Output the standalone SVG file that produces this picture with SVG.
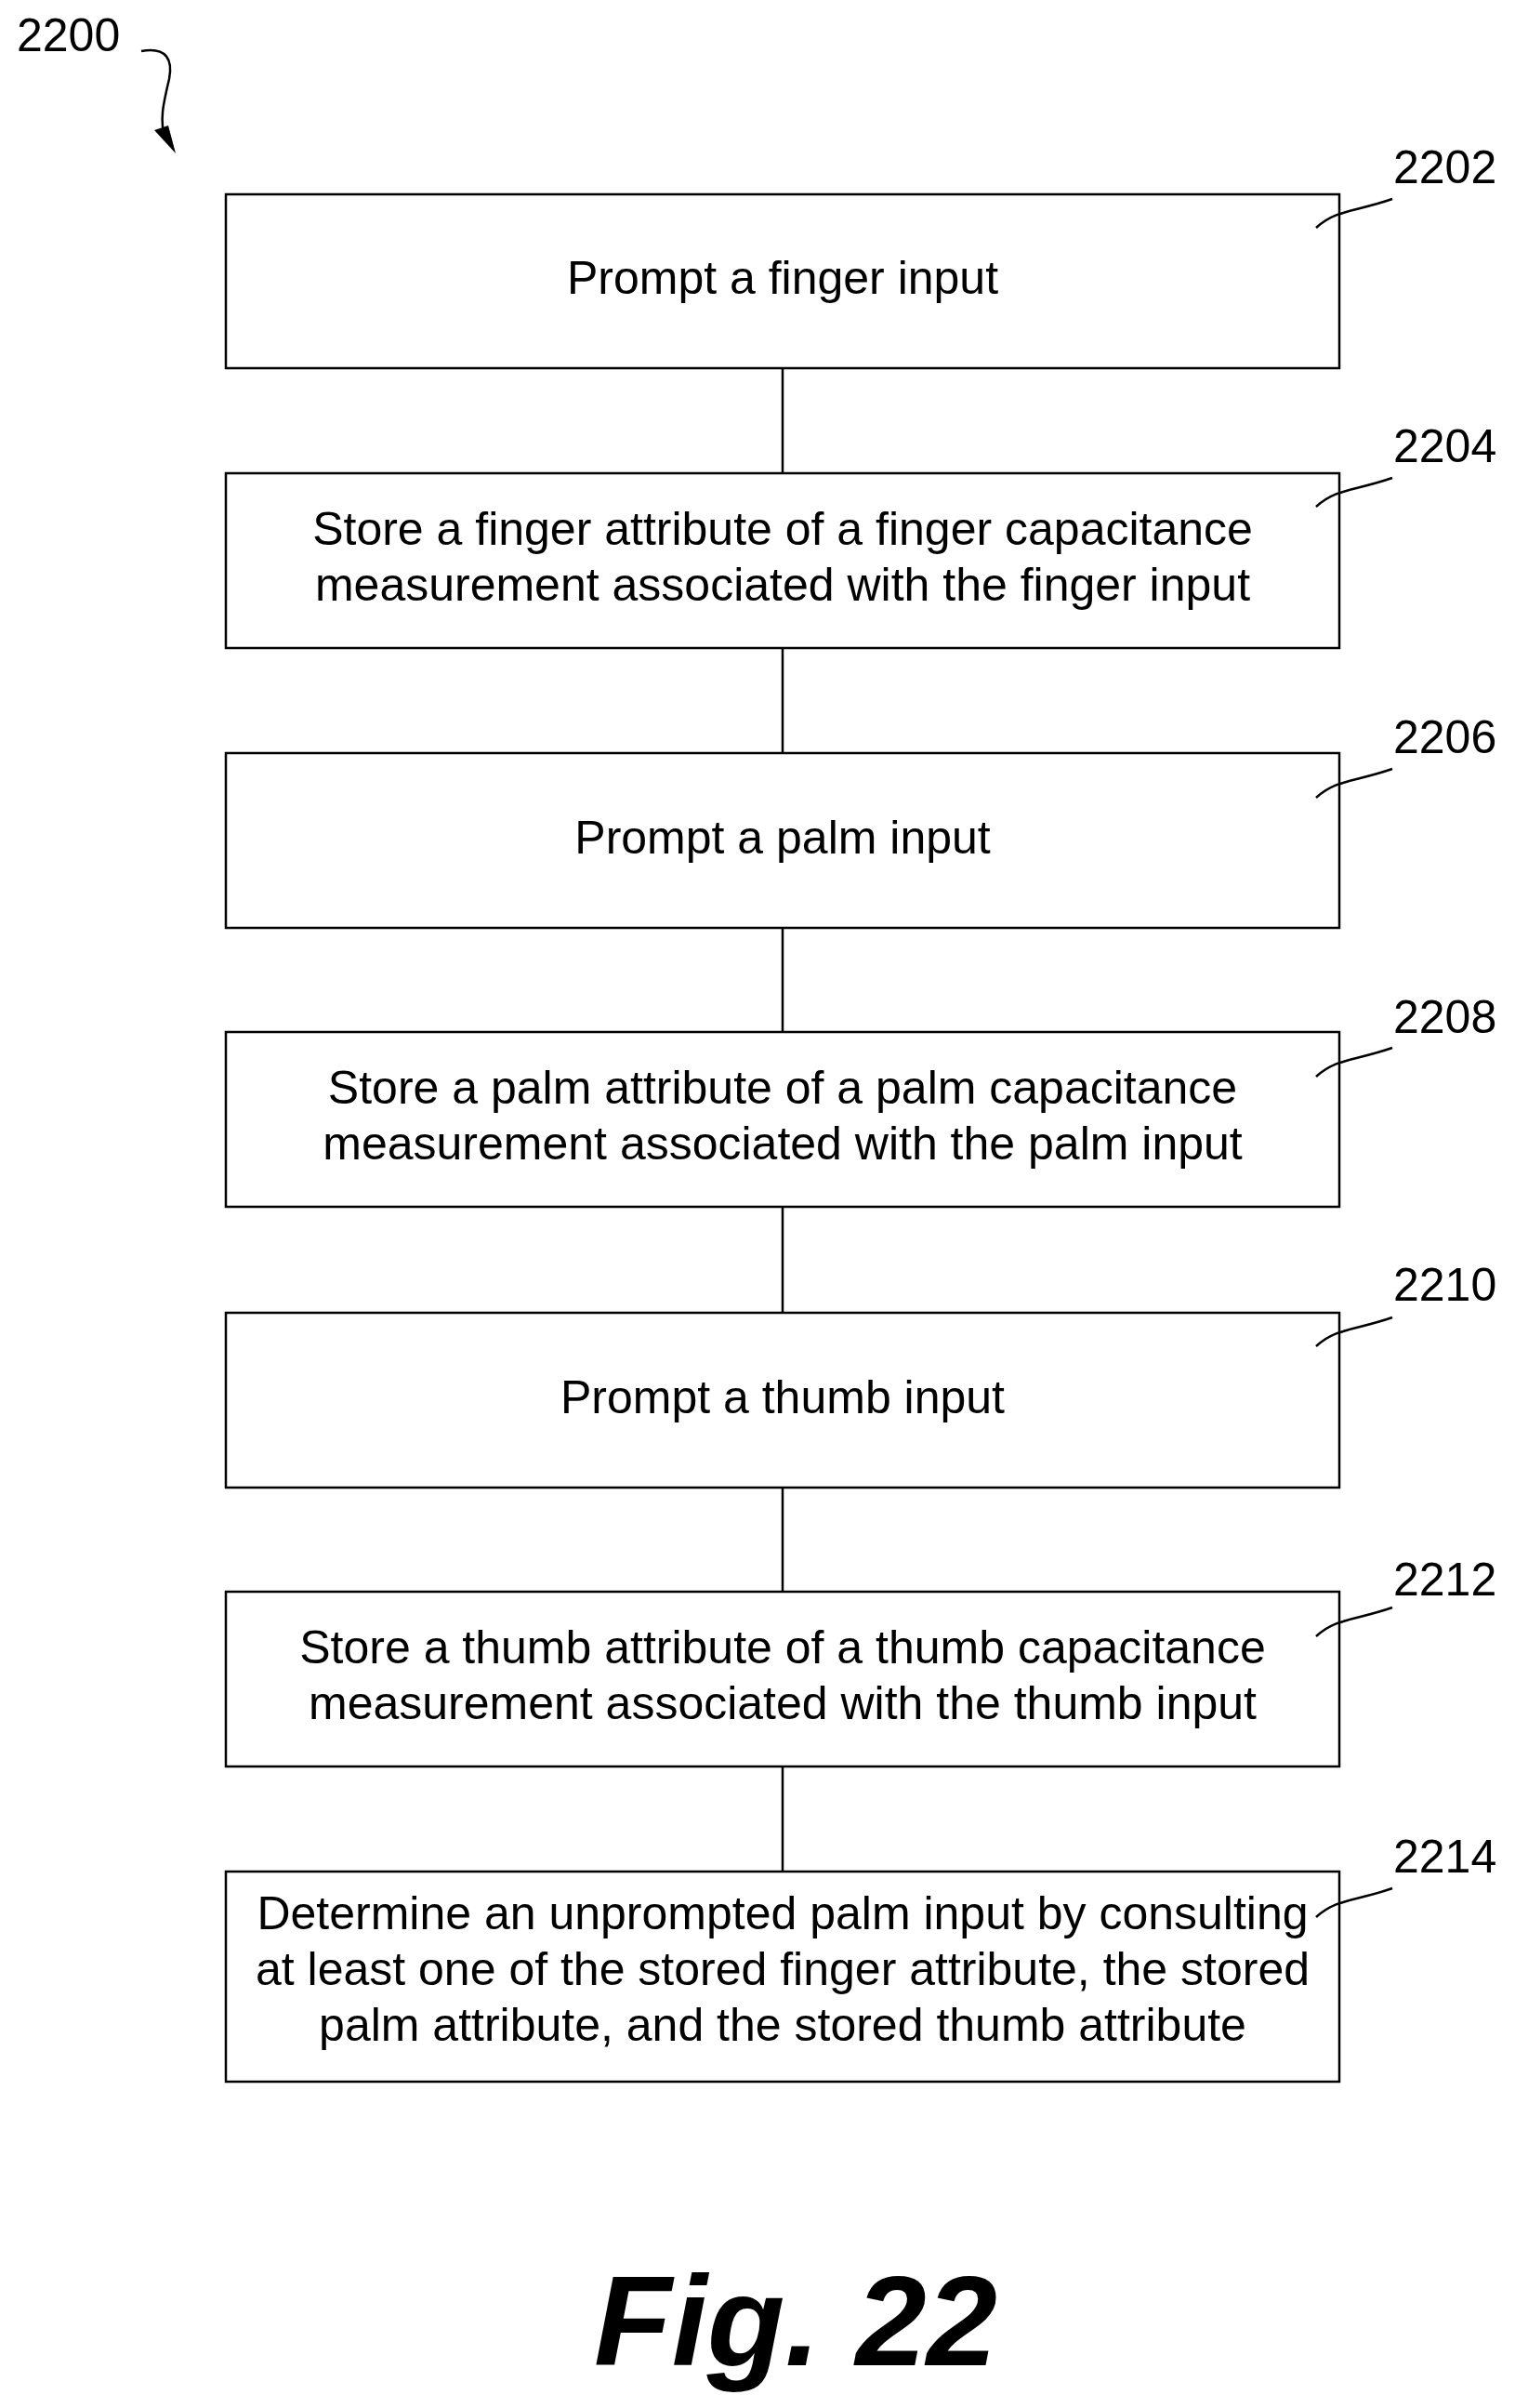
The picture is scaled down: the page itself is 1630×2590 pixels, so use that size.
<svg xmlns="http://www.w3.org/2000/svg" width="1630" height="2590" viewBox="0 0 1630 2590">
<style>
.box{fill:#fff;stroke:#000;stroke-width:2.5}
.t{font-family:"Liberation Sans",Arial,sans-serif;font-size:50px;text-anchor:middle;fill:#000}
.lbl{font-family:"Liberation Sans",Arial,sans-serif;font-size:50px;fill:#000}
.ld{fill:none;stroke:#000;stroke-width:2.5}
.c{stroke:#000;stroke-width:2.5}
</style>
<rect width="1630" height="2590" fill="#fff"/>
<g id="ref2200">
<text class="lbl" x="18" y="55">2200</text>
<path class="ld" d="M152,55 C180,50 186,65 182,85 C176,110 171,130 178,150"/>
<path d="M166,140 L189,165 L181,135 Z"/>
</g>
<g id="connectors">
<line class="c" x1="842" y1="396" x2="842" y2="509"/>
<line class="c" x1="842" y1="697" x2="842" y2="810"/>
<line class="c" x1="842" y1="998" x2="842" y2="1110"/>
<line class="c" x1="842" y1="1298" x2="842" y2="1412"/>
<line class="c" x1="842" y1="1600" x2="842" y2="1712"/>
<line class="c" x1="842" y1="1900" x2="842" y2="2013"/>
</g>
<g id="n2202"><rect class="box" x="243" y="209" width="1198" height="187"/>
<text class="t" x="842" y="316">Prompt a finger input</text>
<text class="lbl" x="1499" y="197">2202</text><path class="ld" d="M1416,245 C1438,225 1458,228 1498,214"/></g>
<g id="n2204"><rect class="box" x="243" y="509" width="1198" height="188"/>
<text class="t" x="842" y="586">Store a finger attribute of a finger capacitance</text>
<text class="t" x="842" y="646">measurement associated with the finger input</text>
<text class="lbl" x="1499" y="497">2204</text><path class="ld" d="M1416,545 C1438,525 1458,528 1498,514"/></g>
<g id="n2206"><rect class="box" x="243" y="810" width="1198" height="188"/>
<text class="t" x="842" y="918">Prompt a palm input</text>
<text class="lbl" x="1499" y="810">2206</text><path class="ld" d="M1416,858 C1438,838 1458,841 1498,827"/></g>
<g id="n2208"><rect class="box" x="243" y="1110" width="1198" height="188"/>
<text class="t" x="842" y="1187">Store a palm attribute of a palm capacitance</text>
<text class="t" x="842" y="1247">measurement associated with the palm input</text>
<text class="lbl" x="1499" y="1111">2208</text><path class="ld" d="M1416,1158 C1438,1138 1458,1141 1498,1127"/></g>
<g id="n2210"><rect class="box" x="243" y="1412" width="1198" height="188"/>
<text class="t" x="842" y="1520">Prompt a thumb input</text>
<text class="lbl" x="1499" y="1399">2210</text><path class="ld" d="M1416,1448 C1438,1428 1458,1431 1498,1417"/></g>
<g id="n2212"><rect class="box" x="243" y="1712" width="1198" height="188"/>
<text class="t" x="842" y="1789">Store a thumb attribute of a thumb capacitance</text>
<text class="t" x="842" y="1849">measurement associated with the thumb input</text>
<text class="lbl" x="1499" y="1716">2212</text><path class="ld" d="M1416,1760 C1438,1740 1458,1743 1498,1729"/></g>
<g id="n2214"><rect class="box" x="243" y="2013" width="1198" height="226"/>
<text class="t" x="842" y="2075">Determine an unprompted palm input by consulting</text>
<text class="t" x="842" y="2135">at least one of the stored finger attribute, the stored</text>
<text class="t" x="842" y="2195">palm attribute, and the stored thumb attribute</text>
<text class="lbl" x="1499" y="2014">2214</text><path class="ld" d="M1416,2062 C1438,2042 1458,2045 1498,2031"/></g>
<text x="856" y="2544" font-family="Liberation Sans,Arial,sans-serif" font-size="137" font-weight="bold" font-style="italic" text-anchor="middle">Fig. 22</text>
</svg>
